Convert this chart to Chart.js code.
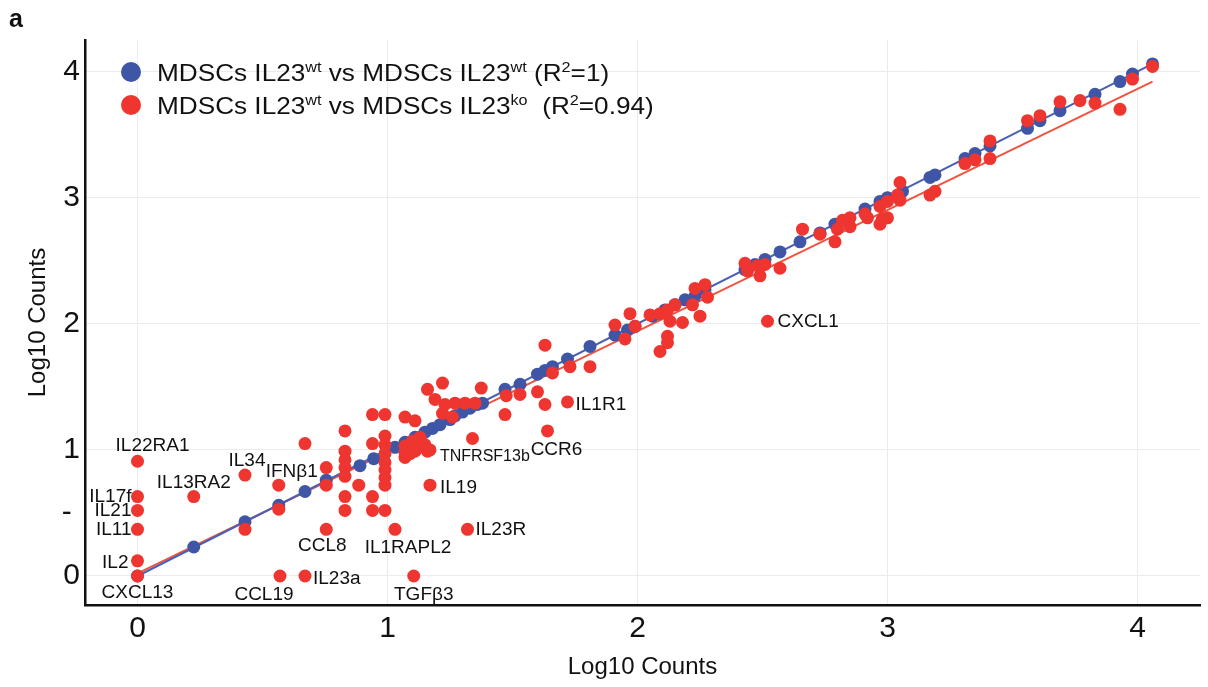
<!DOCTYPE html>
<html>
<head>
<meta charset="utf-8">
<script src="https://cdn.jsdelivr.net/npm/chart.js@4.4.1/dist/chart.umd.min.js"></script>
<style>
  html, body { margin: 0; padding: 0; background: #fff; }
  #wrap { position: relative; width: 1208px; height: 687px; font-family: "Liberation Sans", Arial, sans-serif; color: #111; }
  #panel { position: absolute; left: 9px; top: 4px; font-size: 25px; font-weight: bold; }
  .legdot { position: absolute; left: 121px; width: 20px; height: 20px; border-radius: 50%; }
  .legtxt { position: absolute; left: 157px; font-size: 24px; line-height: 1; white-space: nowrap;
            transform-origin: left center; transform: translateY(-50%) scaleX(1.09); }
  .legtxt sup { font-size: 0.62em; }
</style>
</head>
<body>
<div id="wrap">
  <canvas id="scatterChart" width="1208" height="687"></canvas>
  <div id="panel">a</div>
  <div class="legdot" style="top:62px;background:#3f56a6"></div>
  <div class="legtxt" style="top:72px">MDSCs IL23<sup>wt</sup> vs MDSCs IL23<sup>wt</sup> (R<sup>2</sup>=1)</div>
  <div class="legdot" style="top:95px;background:#ee3530"></div>
  <div class="legtxt" style="top:105px">MDSCs IL23<sup>wt</sup> vs MDSCs IL23<sup>ko</sup>&nbsp; (R<sup>2</sup>=0.94)</div>
</div>
<script>
// wt vs wt (blue) - sits on the diagonal
const wtX = [0, 0.225, 0.43, 0.565, 0.67, 0.755, 0.89, 0.945, 1.03, 1.07, 1.11, 1.15, 1.18, 1.21, 1.25,
  1.27, 1.30, 1.33, 1.36, 1.38, 1.47, 1.53, 1.60, 1.63, 1.66, 1.72, 1.81, 1.91, 1.96, 1.99, 2.06, 2.11,
  2.15, 2.19, 2.23, 2.27, 2.43, 2.47, 2.51, 2.57, 2.65, 2.73, 2.79, 2.91, 2.97, 3.0, 3.06, 3.17, 3.19,
  3.31, 3.35, 3.41, 3.56, 3.61, 3.69, 3.83, 3.93, 3.98, 4.06];
const wtY = [0, 0.23, 0.43, 0.56, 0.67, 0.76, 0.875, 0.93, 1.02, 1.06, 1.10, 1.14, 1.17, 1.20, 1.24,
  1.27, 1.30, 1.33, 1.36, 1.37, 1.48, 1.52, 1.60, 1.63, 1.66, 1.72, 1.82, 1.91, 1.95, 1.98, 2.06, 2.11,
  2.15, 2.19, 2.22, 2.27, 2.43, 2.47, 2.51, 2.57, 2.65, 2.72, 2.79, 2.91, 2.97, 3.0, 3.05, 3.16, 3.18,
  3.31, 3.35, 3.41, 3.55, 3.61, 3.69, 3.82, 3.92, 3.98, 4.06];

// wt vs ko (red), unlabelled genes
const koX = [0.43, 0.565, 0.67, 0.755, 0.755,
  0.83, 0.83, 0.83, 0.83, 0.83, 0.83, 0.83, 0.885,
  0.94, 0.94, 0.94, 0.94,
  0.99, 0.99, 0.99, 0.99, 0.99, 0.99, 0.99, 0.99, 0.99,
  1.07, 1.11, 1.07, 1.07, 1.10, 1.11, 1.13, 1.16, 1.09, 1.15, 1.12, 1.07,
  1.16, 1.22, 1.19, 1.23, 1.27, 1.31, 1.35, 1.22, 1.26, 1.34,
  1.375, 1.475, 1.53, 1.47, 1.60, 1.63, 1.63, 1.66, 1.73, 1.81,
  1.91, 1.95, 1.97, 1.99, 2.05, 2.09, 2.12, 2.13, 2.15, 2.18, 2.12, 2.12, 2.09, 2.22, 2.23, 2.27, 2.28, 2.25,
  2.43, 2.44, 2.48, 2.51, 2.49, 2.57,
  2.66, 2.73, 2.79, 2.80, 2.82, 2.85, 2.85, 2.91, 2.92, 2.97, 2.98, 3.0, 2.97, 3.0, 3.04, 3.05, 3.05,
  3.17, 3.19, 3.31, 3.35,
  3.41, 3.41, 3.56, 3.61, 3.69, 3.77, 3.83, 3.93, 3.98, 4.06];
const koY = [0.37, 0.53, 1.05, 0.86, 0.72,
  1.15, 0.99, 0.92, 0.86, 0.79, 0.63, 0.52, 0.72,
  1.28, 1.05, 0.63, 0.52,
  1.28, 1.11, 1.04, 0.97, 0.90, 0.84, 0.78, 0.72, 0.52,
  1.26, 1.23, 1.03, 0.94, 1.07, 0.99, 1.10, 0.99, 0.97, 1.04, 1.02, 0.98,
  1.48, 1.53, 1.40, 1.36, 1.37, 1.37, 1.37, 1.29, 1.26, 1.09,
  1.49, 1.43, 1.44, 1.28, 1.46, 1.36, 1.83, 1.61, 1.66, 1.66,
  1.99, 1.88, 2.08, 1.98, 2.07, 2.08, 2.11, 2.02, 2.15, 2.01, 1.90, 1.85, 1.78, 2.15, 2.28, 2.31, 2.21, 2.06,
  2.48, 2.42, 2.46, 2.47, 2.38, 2.44,
  2.75, 2.71, 2.65, 2.75, 2.82, 2.84, 2.77, 2.87, 2.84, 2.79, 2.83, 2.84, 2.93, 2.97, 3.02, 3.12, 2.98,
  3.02, 3.05, 3.27, 3.30,
  3.31, 3.45, 3.61, 3.65, 3.76, 3.77, 3.75, 3.70, 3.94, 4.04];

// wt vs ko (red), labelled genes
const geneNames = ['IL22RA1', 'IL17f', 'IL21', 'IL11', 'IL2', 'CXCL13', 'IL13RA2', 'IL34', 'IFNβ1', 'CCL19',
  'IL23a', 'CCL8', 'IL1RAPL2', 'TGFβ3', 'IL19', 'IL23R', 'TNFRSF13b', 'CCR6', 'IL1R1', 'CXCL1'];
const geneX = [0, 0, 0, 0, 0, 0, 0.225, 0.43, 0.565, 0.57, 0.67, 0.755, 1.03, 1.105, 1.17, 1.32, 1.17, 1.64, 1.72, 2.52];
const geneY = [0.91, 0.63, 0.52, 0.37, 0.12, 0, 0.63, 0.80, 0.72, 0, 0, 0.37, 0.37, 0, 0.72, 0.37, 1.0, 1.15, 1.38, 2.02];

// regression lines
const wtFitX = [0, 4.06];
const wtFitY = [0, 4.06];
const koFitX = [0, 4.06];
const koFitY = [0.02, 3.92];

const xTicks = [0, 1, 2, 3, 4];
const yTicks = [0, 0.5, 1, 2, 3, 4];
const yTickLabels = ['0', '- ', '1', '2', '3', '4'];

// label offset from its dot: [dx, dy, align, fontSize]
const labelPlace = {
  'IL22RA1': [15, -15, 'center'], 'IL17f': [-6, 0, 'right'], 'IL21': [-6, 0, 'right'],
  'IL11': [-6, 0, 'right'], 'IL2': [-9, 2, 'right'], 'CXCL13': [0, 17, 'center'],
  'IL13RA2': [0, -14, 'center'], 'IL34': [2, -14, 'center'], 'IFNβ1': [13, -13, 'center'],
  'CCL19': [-16, 19, 'center'], 'IL23a': [8, 3, 'left'], 'CCL8': [-4, 16, 'center'],
  'IL1RAPL2': [13, 18, 'center'], 'TGFβ3': [10, 19, 'center'], 'IL19': [10, 3, 'left'],
  'IL23R': [8, 0, 'left'], 'TNFRSF13b': [10, 7, 'left', 16], 'CCR6': [9, 19, 'center'],
  'IL1R1': [8, 3, 'left'], 'CXCL1': [10, 1, 'left']
};

const toPts = (xs, ys) => xs.map((v, i) => ({ x: v, y: ys[i] }));

const geneLabels = {
  id: 'geneLabels',
  afterDatasetsDraw(chart) {
    const { ctx, scales: { x, y } } = chart;
    ctx.save();
    ctx.fillStyle = '#111';
    ctx.textBaseline = 'middle';
    geneNames.forEach((name, i) => {
      const p = labelPlace[name];
      ctx.font = (p[3] || 19) + 'px "Liberation Sans", Arial, sans-serif';
      ctx.textAlign = p[2];
      ctx.fillText(name, x.getPixelForValue(geneX[i]) + p[0], y.getPixelForValue(geneY[i]) + p[1]);
    });
    ctx.restore();
  }
};

Chart.defaults.font.family = '"Liberation Sans", Arial, sans-serif';
Chart.defaults.color = '#111';

const ctx = document.getElementById('scatterChart').getContext('2d');
const scatterChart = new Chart(ctx, {
  type: 'scatter',
  data: {
    datasets: [
      {
        label: 'MDSCs IL23wt vs MDSCs IL23ko (R2=0.94)',
        data: toPts(koX, koY).concat(toPts(geneX, geneY)),
        backgroundColor: '#ee3530',
        pointRadius: 6.5,
        pointBorderWidth: 0,
        order: 0
      },
      {
        label: 'MDSCs IL23wt vs MDSCs IL23wt (R2=1)',
        data: toPts(wtX, wtY),
        backgroundColor: '#3f56a6',
        pointRadius: 6.5,
        pointBorderWidth: 0,
        order: 1
      },
      {
        label: 'wt fit',
        data: toPts(wtFitX, wtFitY),
        showLine: true,
        borderColor: '#4b60b3',
        borderWidth: 2,
        pointRadius: 0,
        order: 2
      },
      {
        label: 'ko fit',
        data: toPts(koFitX, koFitY),
        showLine: true,
        borderColor: '#f0533f',
        borderWidth: 2,
        pointRadius: 0,
        order: 3
      }
    ]
  },
  options: {
    responsive: false,
    animation: false,
    layout: { padding: { top: 40, right: 8, left: 0, bottom: 0 } },
    plugins: {
      legend: { display: false },
      tooltip: { enabled: false }
    },
    scales: {
      x: {
        type: 'linear',
        min: -0.21,
        max: 4.25,
        afterBuildTicks: s => { s.ticks = xTicks.map(v => ({ value: v })); },
        afterFit: s => { s.height = 82; },
        ticks: { font: { size: 30 }, color: '#111', padding: 6 },
        grid: { color: '#ebebeb', lineWidth: 1, drawTicks: false },
        border: { color: '#111', width: 2.5 },
        title: { display: true, text: 'Log10 Counts', font: { size: 24 }, color: '#111', padding: { top: 0, bottom: 5 } }
      },
      y: {
        type: 'linear',
        min: -0.23,
        max: 4.25,
        afterBuildTicks: s => { s.ticks = yTicks.map(v => ({ value: v })); },
        afterFit: s => { s.width = 85; },
        ticks: {
          font: { size: 30 },
          color: '#111',
          padding: 5,
          callback: v => yTickLabels[yTicks.indexOf(v)]
        },
        grid: {
          color: c => (c.tick && c.tick.value === 0.5 ? 'rgba(0,0,0,0)' : '#ebebeb'),
          lineWidth: 1,
          drawTicks: false
        },
        border: { color: '#111', width: 2.5 },
        title: { display: true, text: 'Log10 Counts', font: { size: 24 }, color: '#111', padding: { top: 24, bottom: 0 } }
      }
    }
  },
  plugins: [geneLabels]
});
</script>
</body>
</html>
